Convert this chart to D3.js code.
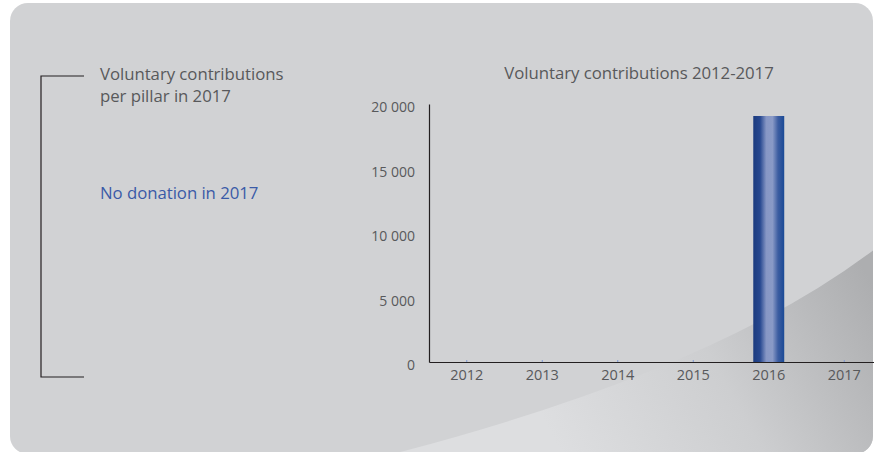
<!DOCTYPE html>
<html><head><meta charset="utf-8">
<script src="https://cdn.jsdelivr.net/npm/d3@7"></script>
<style>
html,body{margin:0;padding:0;background:#fff;}
svg{display:block;font-family:"Open Sans",sans-serif;}
</style></head>
<body>
<svg id="chart" width="874" height="452"></svg>
<script>
const years = ["2012","2013","2014","2015","2016","2017"];
const contributions = [0,0,0,0,19070,0];
const yTicks = [0,5000,10000,15000,20000];
const chartTitle = "Voluntary contributions 2012-2017";
const sideTitle = ["Voluntary contributions","per pillar in 2017"];
const sideNote = "No donation in 2017";

const svg = d3.select("#chart");
const defs = svg.append("defs");

// panel
const PX=10, PY=3, PW=863, PH=451, PR=18;
svg.append("rect").attr("x",PX).attr("y",PY).attr("width",PW).attr("height",PH)
  .attr("rx",PR).attr("fill","#d1d2d4");

const swg = defs.append("linearGradient").attr("id","swoosh")
  .attr("gradientUnits","userSpaceOnUse").attr("x1",870).attr("y1",280).attr("x2",560).attr("y2",450);
swg.append("stop").attr("offset","0").attr("stop-color","#adaeb0");
swg.append("stop").attr("offset","0.5").attr("stop-color","#cdced0");
swg.append("stop").attr("offset","1").attr("stop-color","#dddee0");

const clip = defs.append("clipPath").attr("id","panelclip");
clip.append("rect").attr("x",PX).attr("y",PY).attr("width",PW).attr("height",PH).attr("rx",PR);

svg.append("path").attr("clip-path","url(#panelclip)")
  .attr("d","M385,456 Q720,370 880,245 L880,470 L385,470 Z")
  .attr("fill","url(#swoosh)");

// bar gradient
const bg = defs.append("linearGradient").attr("id","barg").attr("x1","0").attr("x2","1").attr("y1","0").attr("y2","0");
[["0","#1b3b7f"],["0.22","#274890"],["0.42","#8797c5"],["0.62","#8a9ac7"],["0.8","#3d5da1"],["1","#1a4a96"]]
  .forEach(([o,c])=>bg.append("stop").attr("offset",o).attr("stop-color",c));

// scales
const x = d3.scaleBand().domain(years).range([429,882]).paddingInner(0.59).paddingOuter(0.295);
const y = d3.scaleLinear().domain([0,20000]).range([362,104]);
const loc = d3.formatLocale({decimal:".",thousands:"\u00a0",grouping:[3],currency:["",""]});
const fmt = loc.format(",");

const textCol = "#58595b";

// bars
svg.append("g").selectAll("rect").data(years.map((d,i)=>({year:d,value:contributions[i]})))
  .join("rect")
  .attr("x",d=>x(d.year)).attr("width",x.bandwidth())
  .attr("y",d=>y(d.value)).attr("height",d=>y(0)-y(d.value))
  .attr("fill","url(#barg)");

// y axis
const ya = svg.append("g").attr("transform","translate(429,0)")
  .call(d3.axisLeft(y).tickValues(yTicks).tickSize(0).tickPadding(14).tickFormat(fmt));
ya.select(".domain").attr("stroke","#231f20").attr("stroke-width",1.2);
ya.selectAll("text").attr("fill",textCol).attr("font-size",14).attr("dy","0.55em")
  .attr("font-family","Open Sans");

// x axis
const xa = svg.append("g").attr("transform","translate(0,362)")
  .call(d3.axisBottom(x).tickSize(-2).tickSizeOuter(0).tickPadding(8));
xa.select(".domain").attr("stroke","#231f20").attr("stroke-width",1.2);
xa.selectAll(".tick line").attr("stroke","#7d98d4");
xa.selectAll("text").attr("fill",textCol).attr("font-size",14.5).attr("font-family","Open Sans");

// title
svg.append("text").attr("x",639).attr("y",79).attr("text-anchor","middle")
  .attr("fill",textCol).attr("font-size",16.8).attr("letter-spacing","-0.05").text(chartTitle);

// left side
svg.append("g").selectAll("text").data(sideTitle).join("text")
  .attr("x",100).attr("y",(d,i)=>80+i*22).attr("fill",textCol).attr("font-size",16.8)
  .attr("letter-spacing","-0.05").text(d=>d);
svg.append("text").attr("x",100).attr("y",199).attr("fill","#3a5aa7").attr("font-size",16.8)
  .attr("letter-spacing","-0.05").text(sideNote);

// bracket
svg.append("path").attr("d","M84,76 H41 V377 H84").attr("fill","none")
  .attr("stroke","#231f20").attr("stroke-width",1.2);
</script>
</body></html>
